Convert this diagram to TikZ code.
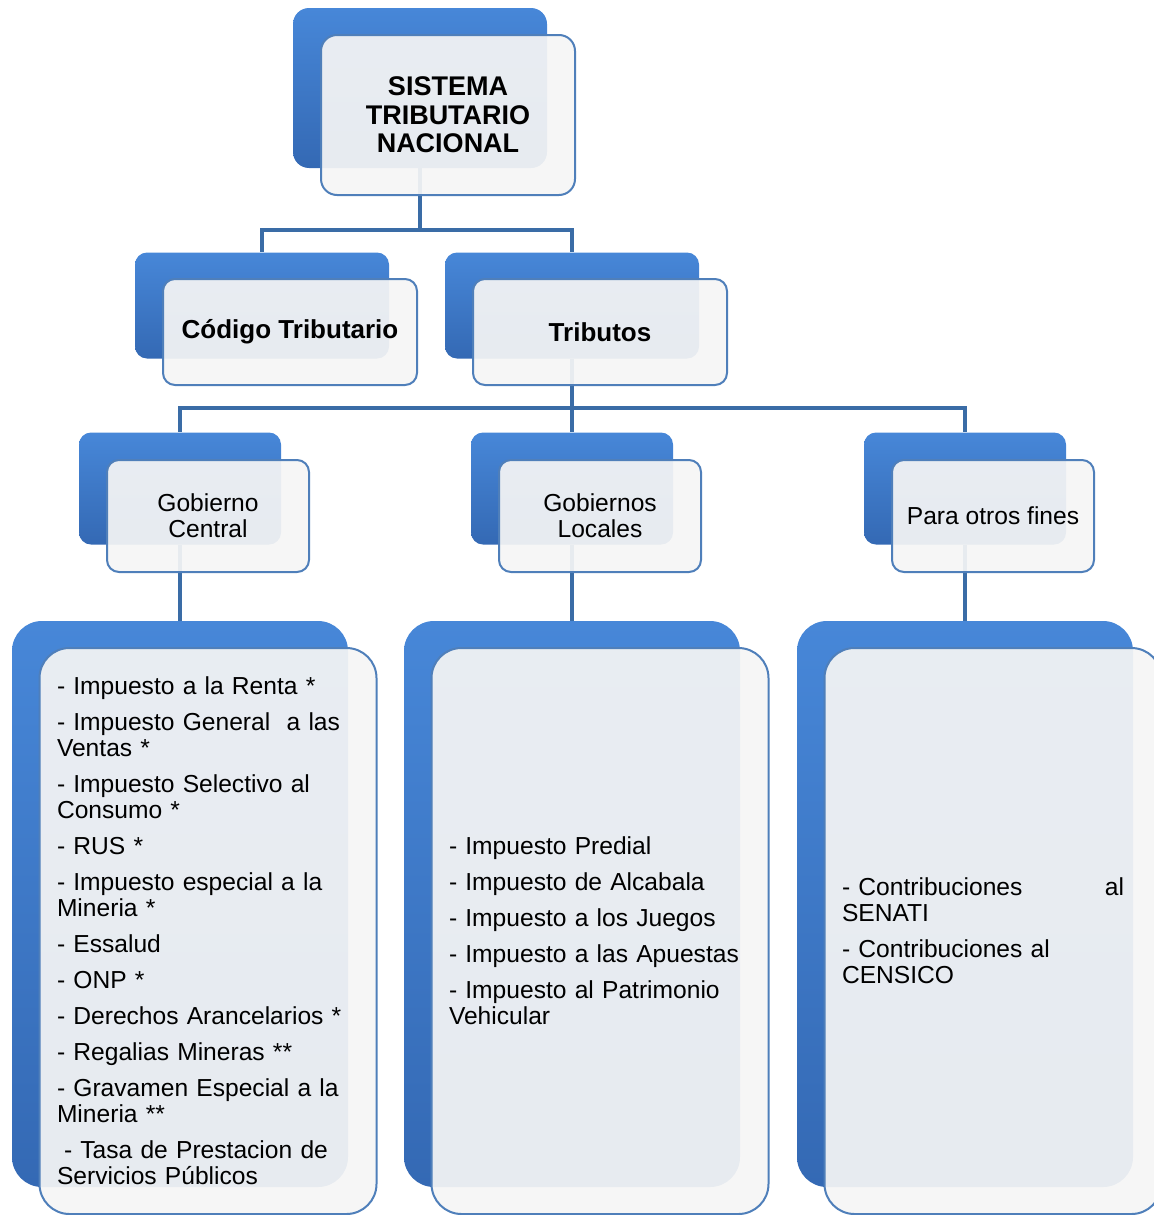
\documentclass[tikz,border=0pt]{standalone}
\usepackage{fontspec}
\setmainfont{Liberation Sans}
\definecolor{backtop}{HTML}{4787D8}
\definecolor{backbot}{HTML}{3469B4}
\definecolor{frontfill}{HTML}{F5F5F5}
\definecolor{frontline}{HTML}{4F7FBA}
\definecolor{linkblue}{HTML}{3A6CA6}

\begin{document}
\begin{tikzpicture}[x=0.5pt, y=-0.5pt,
    back/.style={top color=backtop, bottom color=backbot, draw=none, inner sep=0pt},
    front/.style={draw=frontline, line width=1pt, fill=frontfill, fill opacity=0.93,
      text opacity=1, inner sep=0pt, text=black},
    lvlA/.style={minimum width=127pt, minimum height=80pt, rounded corners=8pt},
    lvlB/.style={minimum width=127pt, minimum height=53pt, rounded corners=6pt},
    lvlC/.style={minimum width=101pt, minimum height=56pt, rounded corners=6pt},
    lvlD/.style={minimum width=168pt, minimum height=283pt, rounded corners=15pt},
    link/.style={draw=linkblue, line width=2pt},
    titletext/.style={font=\bfseries\fontsize{13.5pt}{14.25pt}\selectfont, align=center},
    headtext/.style={font=\bfseries\fontsize{13pt}{14pt}\selectfont, align=center},
    subtext/.style={font=\fontsize{12.3pt}{13pt}\selectfont, align=center},
    listtext/.style={font=\fontsize{12.3pt}{13pt}\selectfont, align=left,
      text width=151pt, inner xsep=8.75pt}]
    \useasboundingbox (0,0) rectangle (1154,1215);

    % back boxes
    \node[back, lvlA] (sis) at (420,88) {};
    \node[back, lvlB] (cod) at (262,305.5) {};
    \node[back, lvlB] (tri) at (572,305.5) {};
    \node[back, lvlC] (cen) at (180,488.5) {};
    \node[back, lvlC] (loc) at (572,488.5) {};
    \node[back, lvlC] (otr) at (965,488.5) {};
    \node[back, lvlD] (lcen) at (180,904) {};
    \node[back, lvlD] (lloc) at (572,904) {};
    \node[back, lvlD] (lotr) at (965,904) {};

    % connectors
    \coordinate (j1) at (420,230);
    \coordinate (j2) at (572,408);
    \draw[link] (sis.south) -- (j1) -| (cod.north);
    \draw[link] (j1) -| (tri.north);
    \draw[link] (tri.south) -- (j2) -| (cen.north);
    \draw[link] (j2) -| (otr.north);
    \draw[link] (j2) -- (loc.north);
    \draw[link] (cen.south) -- (lcen.north);
    \draw[link] (loc.south) -- (lloc.north);
    \draw[link] (otr.south) -- (lotr.north);

    % front boxes
    \node[front, lvlA, titletext] (sisF) at (448,115) {SISTEMA\\TRIBUTARIO\\NACIONAL};
    \node[front, lvlB, headtext] (codF) at (290,332) {Código Tributario};
    \node[front, lvlB, headtext] (triF) at (600,332) {Tributos};
    \node[front, lvlC, subtext] (cenF) at (208,516) {Gobierno\\Central};
    \node[front, lvlC, subtext] (locF) at (600,516) {Gobiernos\\Locales};
    \node[front, lvlC, subtext] (otrF) at (993,516) {Para otros fines};
    \node[front, lvlD, listtext] (lcenF) at (208,931) {%
      - Impuesto a la Renta *\\[5pt]
      - Impuesto General\ \ a las\\Ventas *\\[5pt]
      - Impuesto Selectivo al\\Consumo *\\[5pt]
      - RUS *\\[5pt]
      - Impuesto especial a la\\Mineria *\\[5pt]
      - Essalud\\[5pt]
      - ONP *\\[5pt]
      - Derechos Arancelarios *\\[5pt]
      - Regalias Mineras **\\[5pt]
      - Gravamen Especial a la\\Mineria **\\[5pt]
      \hspace*{3.5pt}- Tasa de Prestacion de\\Servicios Públicos};
    \node[front, lvlD, listtext] (llocF) at (600,931) {%
      - Impuesto Predial\\[5pt]
      - Impuesto de Alcabala\\[5pt]
      - Impuesto a los Juegos\\[5pt]
      - Impuesto a las Apuestas\\[5pt]
      - Impuesto al Patrimonio\\Vehicular};
    \node[front, lvlD, listtext] (lotrF) at (993,931) {%
      \makebox[141pt][l]{- Contribuciones\hfill al}\\SENATI\\[5pt]
      - Contribuciones al\\CENSICO};
\end{tikzpicture}
\end{document}
